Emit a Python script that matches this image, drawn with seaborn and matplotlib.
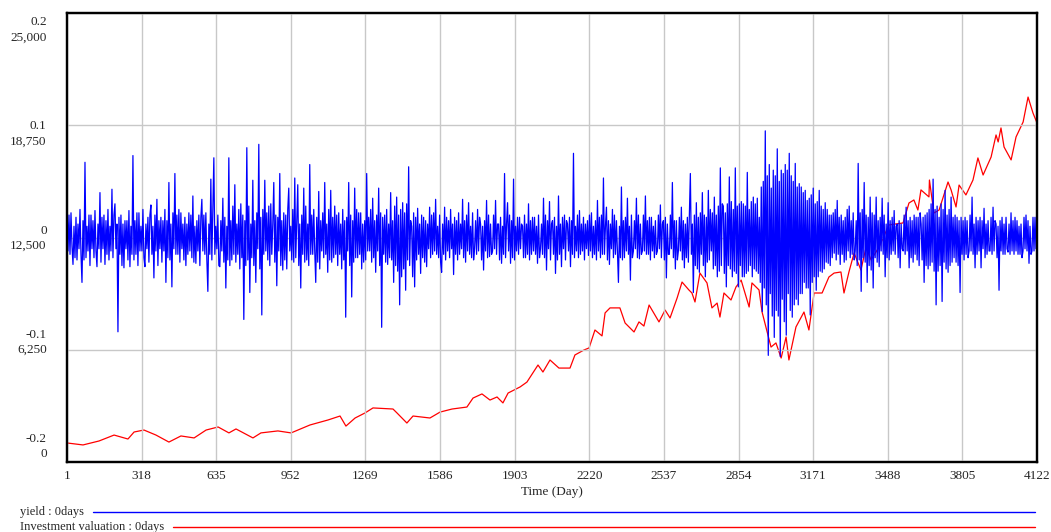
import numpy as np
import pandas as pd
import matplotlib
matplotlib.use("Agg")
import matplotlib.pyplot as plt
from matplotlib.lines import Line2D
import seaborn as sns

# ---------------- data ----------------
x_ticks = [1, 318, 635, 952, 1269, 1586, 1903, 2220, 2537, 2854, 3171, 3488, 3805, 4122]
yield_ticks = ["0.2", "0.1", "0", "-0.1", "-0.2"]
valuation_ticks = ["25,000", "18,750", "12,500", "6,250", "0"]

valuation_days = [1, 69, 137, 201, 260, 286, 328, 379, 434, 485, 541, 592, 643, 689, 719, 791, 825, 897,
                  953, 1033, 1110, 1161, 1186, 1225, 1267, 1301, 1386, 1403, 1445, 1471, 1543, 1586,
                  1637, 1700, 1726, 1764, 1798, 1828, 1853, 1875, 1926, 1955, 2002, 2023, 2053, 2091,
                  2138, 2159, 2198, 2219, 2244, 2274, 2287, 2308, 2350, 2372, 2410, 2431, 2452, 2474,
                  2516, 2542, 2563, 2593, 2614, 2643, 2656, 2669, 2690, 2720, 2741, 2763, 2775, 2792,
                  2822, 2843, 2865, 2899, 2911, 2941, 2954, 2992, 3013, 3035, 3056, 3068, 3098, 3132,
                  3153, 3175, 3209, 3238, 3260, 3289, 3302, 3323, 3345, 3374, 3396, 3417, 3451, 3493,
                  3553, 3578, 3599, 3616, 3629, 3663, 3665, 3684, 3706, 3744, 3757, 3778, 3791, 3820,
                  3850, 3871, 3893, 3927, 3948, 3957, 3969, 3982, 4012, 4033, 4063, 4084, 4105, 4122]
valuation_values = [1060, 950, 1170, 1500, 1280, 1670, 1780, 1500, 1110, 1450, 1340, 1780, 1950, 1620,
                    1840, 1340, 1620, 1730, 1620, 2060, 2340, 2560, 2000, 2450, 2730, 3010, 2950, 2730,
                    2170, 2560, 2450, 2780, 2950, 3060, 3560, 3790, 3450, 3620, 3290, 3840, 4180, 4450,
                    5400, 5010, 5680, 5230, 5230, 5960, 6240, 6350, 7350, 7020, 8300, 8580, 8580, 7740,
                    7240, 7800, 7570, 8740, 7800, 8460, 8020, 9130, 10020, 9580, 9410, 8910, 10520, 9970,
                    8580, 8850, 8070, 9410, 9020, 9740, 10130, 8630, 9970, 9580, 8350, 6400, 6630, 5790,
                    6960, 5680, 7520, 8350, 7350, 9410, 9410, 10300, 10520, 10580, 9410, 10580, 11640,
                    10690, 11970, 11250, 11970, 13200, 13310, 14420, 14590, 14030, 15150, 14760, 15700,
                    13860, 14030, 15590, 15150, 14200, 15420, 14870, 15700, 16930, 15980, 16980, 18210,
                    17820, 18600, 17540, 16820, 18100, 18930, 20320, 19430, 18880]

yield_values = [
    0.030, -0.012, 0.020, -0.015, 0.022, -0.008, -0.024, 0.010, -0.018, 0.018, -0.020, 0.012,
    -0.010, 0.025, -0.015, -0.040, 0.015, -0.020, 0.067, -0.018, 0.010, -0.012, 0.020, -0.025,
    0.020, -0.010, 0.015, -0.018, 0.024, -0.012, -0.026, 0.012, -0.010, 0.040, -0.022, 0.018,
    -0.010, 0.020, -0.024, 0.015, -0.015, 0.025, -0.020, 0.010, -0.012, 0.043, -0.018, 0.020,
    0.030, -0.010, 0.012, -0.084, 0.018, -0.015, 0.020, -0.025, 0.012, -0.027, 0.015, -0.010,
    0.015, -0.020, 0.024, -0.026, 0.010, -0.015, 0.073, -0.020, 0.015, -0.015, 0.022, -0.025,
    0.022, -0.012, 0.010, -0.012, 0.025, -0.018, -0.026, 0.012, -0.010, 0.018, -0.022, 0.020,
    0.029, -0.015, 0.010, -0.036, 0.020, -0.012, 0.034, -0.025, 0.015, -0.010, 0.018, -0.022,
    0.015, -0.012, 0.025, -0.040, 0.015, -0.018, 0.049, -0.020, 0.012, -0.044, 0.022, -0.010,
    0.057, -0.015, 0.020, -0.015, 0.025, -0.022, 0.022, -0.010, 0.012, -0.020, 0.018, -0.025,
    0.012, -0.015, 0.022, -0.012, 0.020, -0.018, 0.037, -0.022, 0.010, -0.023, 0.015, -0.012,
    0.020, -0.025, 0.018, 0.034, -0.012, 0.020, -0.015, 0.022, -0.020, -0.048, 0.012, -0.015,
    0.052, -0.020, 0.025, 0.071, -0.015, 0.010, -0.010, 0.020, -0.025, -0.026, 0.015, -0.012,
    0.035, -0.022, 0.018, -0.045, 0.010, -0.020, 0.071, -0.025, 0.015, -0.020, 0.028, -0.015,
    0.047, -0.022, 0.012, -0.015, 0.025, -0.028, 0.030, -0.018, 0.020, -0.073, 0.015, -0.025,
    0.080, -0.020, 0.028, -0.049, 0.012, -0.018, 0.051, -0.025, 0.015, -0.040, 0.022, -0.010,
    0.083, -0.028, 0.018, -0.069, 0.025, -0.015, 0.051, -0.012, 0.022, -0.020, 0.028, -0.025,
    0.030, -0.015, 0.012, 0.049, -0.022, 0.020, -0.043, 0.018, -0.012, 0.057, -0.025, 0.015,
    -0.029, 0.022, -0.020, 0.020, -0.028, 0.025, 0.044, -0.012, 0.010, -0.020, 0.025, -0.022,
    0.053, -0.018, 0.015, 0.047, -0.025, 0.012, -0.045, 0.020, -0.015, 0.044, -0.022, 0.028,
    -0.020, 0.012, -0.025, 0.065, -0.015, 0.020, -0.015, 0.025, -0.012, -0.040, 0.018, -0.022,
    0.041, -0.028, 0.015, -0.012, 0.022, -0.018, 0.049, -0.015, 0.012, -0.031, 0.025, -0.020,
    0.042, -0.022, 0.018, -0.018, 0.028, -0.015, 0.020, -0.025, 0.022, -0.015, 0.012, -0.028,
    0.025, -0.020, 0.015, -0.071, 0.018, -0.012, 0.049, -0.025, 0.020, -0.053, 0.015, -0.022,
    0.044, -0.018, 0.025, -0.018, 0.022, -0.015, 0.022, -0.028, 0.012, -0.022, 0.015, -0.020,
    0.057, -0.012, 0.018, -0.012, 0.025, -0.022, 0.035, -0.018, 0.015, -0.031, 0.020, -0.012,
    0.044, -0.025, 0.022, -0.080, 0.018, -0.015, 0.020, -0.022, 0.025, -0.024, 0.012, -0.018,
    0.040, -0.020, 0.015, -0.040, 0.028, -0.025, 0.036, -0.030, 0.020, -0.060, 0.025, -0.035,
    0.031, -0.028, 0.022, -0.047, 0.030, -0.020, 0.063, -0.025, 0.015, 0.010, -0.035, 0.022,
    -0.044, 0.018, -0.020, 0.026, -0.015, 0.012, -0.032, 0.020, -0.018, 0.018, -0.022, 0.015,
    -0.026, 0.012, -0.010, 0.027, -0.018, 0.020, -0.015, 0.022, -0.012, 0.034, -0.015, 0.010,
    -0.018, 0.020, -0.022, -0.031, 0.012, -0.015, 0.027, -0.020, 0.018, -0.012, 0.015, -0.018,
    0.025, -0.010, 0.012, -0.033, 0.018, -0.015, 0.015, -0.020, 0.022, -0.015, 0.012, -0.010,
    0.034, -0.018, 0.015, -0.022, 0.020, -0.012, 0.031, -0.015, 0.010, -0.018, 0.022, -0.020,
    -0.010, 0.015, -0.015, 0.025, -0.012, 0.018, 0.012, -0.020, 0.010, -0.029, 0.015, -0.012,
    0.033, -0.018, 0.020, -0.017, 0.012, -0.015, -0.012, 0.020, -0.010, 0.033, -0.015, 0.012,
    0.012, -0.020, 0.018, -0.023, 0.010, -0.015, 0.057, -0.018, 0.012, 0.031, -0.012, 0.020,
    -0.023, 0.015, -0.018, 0.052, -0.020, 0.010, -0.012, 0.018, -0.015, 0.018, -0.010, 0.012,
    0.010, -0.018, 0.020, -0.018, 0.012, -0.015, 0.030, -0.020, 0.015, -0.015, 0.018, -0.012,
    0.018, -0.015, 0.010, -0.023, 0.020, -0.018, -0.010, 0.012, -0.015, 0.035, -0.018, 0.020,
    -0.029, 0.015, -0.010, 0.032, -0.020, 0.012, 0.015, -0.015, 0.018, -0.032, 0.010, -0.020,
    0.037, -0.015, 0.012, -0.026, 0.018, -0.010, 0.020, -0.020, 0.015, 0.012, -0.012, 0.018,
    -0.026, 0.015, -0.015, 0.075, -0.018, 0.010, -0.012, 0.020, -0.018, 0.024, -0.015, 0.012,
    -0.012, 0.018, -0.020, 0.012, -0.010, 0.015, -0.016, 0.020, -0.012, 0.022, -0.018, 0.010,
    -0.015, 0.015, -0.020, 0.033, -0.012, 0.018, -0.018, 0.020, -0.015, 0.053, -0.015, 0.010,
    0.027, -0.020, 0.015, -0.024, 0.012, -0.010, 0.025, -0.018, 0.020, -0.015, 0.015, -0.012,
    -0.040, 0.010, -0.018, 0.045, -0.020, 0.015, -0.018, 0.018, -0.012, 0.035, -0.015, 0.010,
    -0.038, 0.020, -0.018, -0.012, 0.015, -0.010, 0.035, -0.018, 0.020, -0.019, 0.012, -0.015,
    -0.012, 0.020, -0.012, 0.037, -0.015, 0.015, -0.015, 0.018, -0.020, 0.018, -0.012, 0.010,
    -0.018, 0.015, -0.015, -0.012, 0.020, -0.010, 0.029, -0.018, 0.012, 0.015, -0.020, 0.018,
    -0.036, 0.012, -0.015, -0.015, 0.020, -0.010, 0.049, -0.018, 0.015, -0.028, 0.015, -0.020,
    -0.012, 0.018, -0.012, 0.027, -0.020, 0.015, -0.027, 0.012, -0.018, 0.018, -0.022, 0.020,
    0.057, -0.015, 0.012, -0.049, 0.020, -0.025, 0.031, -0.028, 0.018, -0.031, 0.022, -0.015,
    0.040, -0.025, 0.020, -0.035, 0.018, -0.022, 0.042, -0.020, 0.025, -0.012, 0.022, -0.028,
    0.036, -0.025, 0.020, -0.035, 0.028, -0.030, 0.062, -0.025, 0.030, 0.028, -0.032, 0.022,
    -0.044, 0.030, -0.025, 0.054, -0.028, 0.032, -0.035, 0.025, -0.030, 0.062, -0.032, 0.028,
    -0.044, 0.030, -0.025, 0.032, -0.035, 0.030, -0.035, 0.028, -0.032, 0.058, -0.030, 0.025,
    -0.025, 0.032, -0.035, 0.036, -0.028, 0.030, -0.030, 0.035, -0.032, 0.018, -0.040, 0.045,
    -0.066, 0.050, -0.045, 0.095, -0.060, 0.055, -0.105, 0.065, -0.050, 0.044, -0.070, 0.060,
    -0.089, 0.055, -0.065, 0.079, -0.070, 0.050, -0.106, 0.060, -0.055, 0.057, -0.075, 0.065,
    -0.087, 0.060, -0.050, 0.075, -0.065, 0.055, -0.071, 0.050, -0.060, 0.066, -0.055, 0.045,
    -0.060, 0.048, -0.050, 0.045, -0.050, 0.040, -0.040, 0.042, -0.045, 0.033, -0.045, 0.035,
    -0.069, 0.038, -0.040, 0.044, -0.035, 0.030, -0.047, 0.032, -0.035, 0.042, -0.030, 0.028,
    -0.031, 0.025, -0.028, 0.031, -0.022, 0.025, -0.023, 0.020, -0.025, 0.020, -0.018, 0.022,
    -0.014, 0.025, -0.020, 0.033, -0.015, 0.018, -0.024, 0.020, -0.015, 0.015, -0.022, 0.018,
    -0.020, 0.025, -0.012, 0.028, -0.018, 0.015, -0.015, 0.022, -0.020, -0.012, 0.015, -0.025,
    0.066, -0.020, 0.022, -0.048, 0.025, -0.018, 0.049, -0.022, 0.020, -0.040, 0.018, -0.025,
    0.036, -0.029, 0.022, -0.045, 0.020, -0.018, 0.036, -0.022, 0.015, -0.026, 0.018, -0.012,
    0.035, -0.015, 0.020, -0.035, 0.012, -0.018, 0.031, -0.020, 0.015, -0.015, 0.018, -0.012,
    0.024, -0.015, 0.010, 0.012, -0.018, 0.015, -0.027, 0.012, -0.010, -0.012, 0.020, -0.015,
    0.027, -0.012, 0.015, -0.027, 0.018, -0.018, 0.015, -0.022, 0.020, -0.015, 0.018, -0.020,
    0.018, -0.025, 0.022, 0.012, -0.020, 0.018, -0.040, 0.020, -0.025, 0.022, -0.028, 0.025,
    -0.025, 0.030, -0.022, 0.052, -0.030, 0.025, -0.060, 0.028, -0.030, 0.018, -0.025, 0.030,
    -0.057, 0.025, -0.022, 0.042, -0.028, 0.020, -0.031, 0.025, -0.025, 0.036, -0.022, 0.018,
    -0.018, 0.020, -0.022, 0.018, -0.025, 0.015, -0.049, 0.018, -0.015, 0.015, -0.020, 0.018,
    -0.015, 0.015, -0.018, -0.012, 0.020, -0.012, 0.036, -0.015, 0.012, -0.027, 0.018, -0.015,
    0.015, -0.012, 0.018, -0.027, 0.015, -0.010, 0.026, -0.018, 0.012, -0.015, 0.015, -0.012,
    -0.012, 0.018, -0.015, 0.027, -0.012, 0.015, 0.012, -0.018, 0.010, -0.047, 0.015, -0.012,
    0.018, -0.015, 0.012, -0.015, 0.018, -0.010, -0.013, 0.012, -0.015, 0.022, -0.012, 0.015,
    -0.015, 0.018, -0.012, 0.015, -0.015, 0.010, -0.015, 0.012, -0.018, -0.012, 0.018, -0.010,
    0.020, -0.012, 0.015, -0.023, 0.010, -0.015, -0.012, 0.018, -0.012, 0.018, -0.010, 0.012,
]
yield_days = np.linspace(1, 4122, len(yield_values))

# ---------------- styling ----------------
sns.set_style("white")
plt.rcParams["font.family"] = ["Liberation Serif", "DejaVu Serif"]
FS = 9.5
FS_LEG = 9

fig = plt.figure(figsize=(10.51, 5.32), dpi=100)
W, H = 1051, 532
L, R, T, B = 67, 1037, 13, 462
ax = fig.add_axes([L / W, 1 - B / H, (R - L) / W, (B - T) / H])
ax2 = ax.twinx()

blue = "#0000ff"
red = "#ff0000"

df_val = pd.DataFrame({"day": valuation_days, "value": valuation_values})
df_yield = pd.DataFrame({"day": yield_days, "value": yield_values})

sns.lineplot(data=df_val, x="day", y="value", ax=ax2, color=red, lw=0.9,
             estimator=None, sort=False, legend=False)
sns.lineplot(data=df_yield, x="day", y="value", ax=ax, color=blue, lw=0.9,
             estimator=None, sort=False, legend=False)

# blue on top of red
ax.set_zorder(ax2.get_zorder() + 1)
ax.patch.set_visible(False)

ax.set_xlim(1, 4122)
ax.set_ylim(-0.2, 0.2)
ax2.set_ylim(0, 25000)

ax.set_xticks(x_ticks)
ax.set_xticklabels([str(t) for t in x_ticks], fontsize=FS)
ax.tick_params(axis="x", length=0, pad=6)
ax.set_yticks([0.2, 0.1, 0.0, -0.1, -0.2])
ax.set_yticklabels([])
ax.tick_params(axis="y", length=0)
ax2.set_yticks([])
ax.grid(True, color="#c8c8c8", lw=1.0)
ax.set_xlabel("Time (Day)", fontsize=FS, labelpad=3)
ax.set_ylabel("")
ax2.set_ylabel("")

for a in (ax, ax2):
    for s in a.spines.values():
        s.set_color("black")
        s.set_linewidth(1.6)

# stacked left-axis labels (Vensim style)
upper = np.linspace(0.980, 0.051, 5)
for yl, vl, yf in zip(yield_ticks, valuation_ticks, upper):
    ax.text(-0.021, yf, yl, transform=ax.transAxes, ha="right", va="center", fontsize=FS)
    ax.text(-0.021, yf - 0.034, vl, transform=ax.transAxes, ha="right", va="center", fontsize=FS)

# bottom legend
fig.text(20 / W, 1 - 512 / H, "yield : 0days", ha="left", va="center", fontsize=FS_LEG)
fig.add_artist(Line2D([93 / W, 1035 / W], [1 - 512 / H, 1 - 512 / H], color=blue, lw=1.0,
                      transform=fig.transFigure))
fig.text(20 / W, 1 - 527 / H, "Investment valuation : 0days", ha="left", va="center", fontsize=FS_LEG)
fig.add_artist(Line2D([173 / W, 1035 / W], [1 - 527 / H, 1 - 527 / H], color=red, lw=1.0,
                      transform=fig.transFigure))

fig.savefig("out.png", dpi=100)
